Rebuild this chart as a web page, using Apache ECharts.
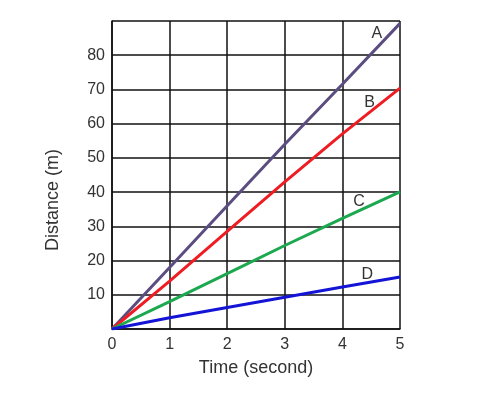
<!DOCTYPE html>
<html>
<head>
<meta charset="utf-8">
<script src="https://cdn.jsdelivr.net/npm/echarts@6/dist/echarts.min.js"></script>
<style>
html,body{margin:0;padding:0;background:#fff;}
#c{width:483px;height:400px;}
</style>
</head>
<body>
<div id="c"></div>
<script>
var time = [0, 1, 2, 3, 4, 5];
var seriesA = [0, 18, 36, 54, 71.5, 89.3];
var seriesB = [0, 14, 28.5, 43, 57, 70.4];
var seriesC = [0, 8, 16.2, 24.4, 32.3, 40.1];
var seriesD = [0, 3.3, 6.3, 9.3, 12.3, 15.2];
var seriesNames = ['A', 'B', 'C', 'D'];
var seriesColors = ['#5c4d80', '#ee1d23', '#1ca84e', '#1414d6'];
var labelAnchors = [[4.6, 86.4], [4.47, 66.2], [4.29, 37.2], [4.43, 15.8]];
var xTicks = [0, 1, 2, 3, 4, 5];
var yTicks = [10, 20, 30, 40, 50, 60, 70, 80];

function pairs(ys) { return time.map(function (t, i) { return [t, ys[i]]; }); }

var allY = [seriesA, seriesB, seriesC, seriesD];
var series = allY.map(function (ys, k) {
  return {
    name: seriesNames[k],
    type: 'line',
    data: pairs(ys),
    symbol: 'none',
    lineStyle: { color: seriesColors[k], width: 3 },
    itemStyle: { color: seriesColors[k] },
    z: 3,
    markPoint: {
      symbol: 'circle',
      symbolSize: 0,
      silent: true,
      data: [{ coord: labelAnchors[k], value: seriesNames[k] }],
      label: {
        show: true,
        position: 'inside',
        formatter: seriesNames[k],
        color: '#333',
        fontSize: 16,
        fontFamily: 'Liberation Sans, Arial, sans-serif'
      }
    }
  };
});

var chart = echarts.init(document.getElementById('c'));
chart.setOption({
  animation: false,
  backgroundColor: '#fff',
  grid: { left: 112, right: 83, top: 21, bottom: 71 },
  xAxis: {
    type: 'value',
    min: 0, max: 5, interval: 1,
    name: 'Time (second)',
    nameLocation: 'middle',
    nameGap: 30,
    nameTextStyle: { color: '#333', fontSize: 18, fontFamily: 'Liberation Sans, Arial, sans-serif' },
    axisLine: { show: true, lineStyle: { color: '#111', width: 1.5 } },
    axisTick: { show: false },
    axisLabel: {
      color: '#333', fontSize: 16, margin: 8,
      fontFamily: 'Liberation Sans, Arial, sans-serif',
      formatter: function (v) { return xTicks.indexOf(v) >= 0 ? String(v) : ''; }
    },
    splitLine: { show: true, lineStyle: { color: '#111', width: 1.5 } }
  },
  yAxis: {
    type: 'value',
    min: 0, max: 90, interval: 10,
    name: 'Distance (m)',
    nameLocation: 'middle',
    nameGap: 50,
    nameRotate: 90,
    nameTextStyle: { color: '#333', fontSize: 18, fontFamily: 'Liberation Sans, Arial, sans-serif', padding: [0, 50, 0, 0] },
    axisLine: { show: true, lineStyle: { color: '#111', width: 1.5 } },
    axisTick: { show: false },
    axisLabel: {
      color: '#333', fontSize: 16, margin: 7,
      fontFamily: 'Liberation Sans, Arial, sans-serif',
      formatter: function (v) { return yTicks.indexOf(v) >= 0 ? String(v) : ''; }
    },
    splitLine: { show: true, lineStyle: { color: '#111', width: 1.5 } }
  },
  series: series
});
</script>
</body>
</html>
